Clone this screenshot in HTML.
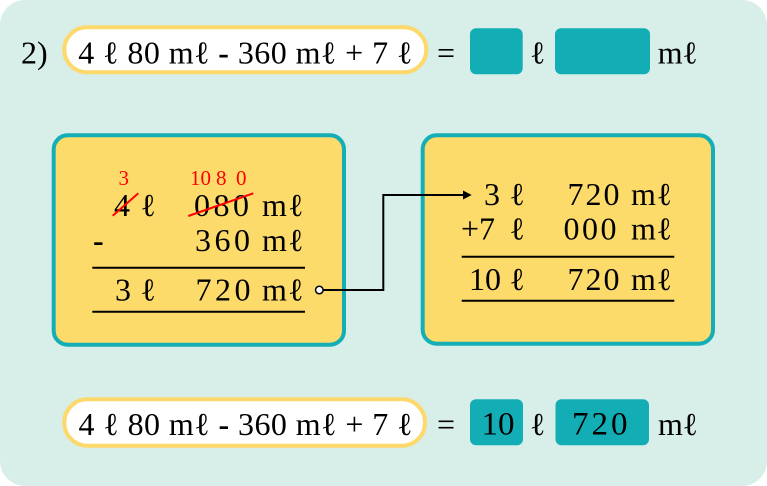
<!DOCTYPE html>
<html><head><meta charset="utf-8"><style>
html,body{margin:0;padding:0;background:#fff;}
svg{display:block;}
text{font-family:"Liberation Serif","DejaVu Serif",serif;fill:#000;}
</style></head><body>
<svg width="767" height="486" viewBox="0 0 767 486" xmlns="http://www.w3.org/2000/svg">
<rect x="0" y="0" width="767" height="486" rx="25" ry="25" fill="#d7eee9"/>

<!-- Top row -->
<text x="21" y="63.5" font-size="32">2)</text>
<rect x="64.3" y="27.3" width="362" height="45" rx="22.5" ry="22.5" fill="#fff" stroke="#fdd96b" stroke-width="4"/>
<text x="78.3" y="63.5" font-size="32" textLength="334" lengthAdjust="spacing">4 ℓ 80 mℓ <tspan font-weight="bold">-</tspan> 360 mℓ + 7 ℓ</text>
<text x="437" y="63.5" font-size="32">=</text>
<rect x="470" y="28.3" width="52.7" height="46" rx="6" fill="#13adb5"/>
<text x="530" y="63.5" font-size="32">ℓ</text>
<rect x="555" y="28.3" width="95" height="46" rx="6" fill="#13adb5"/>
<text x="657.7" y="63.5" font-size="32" textLength="40" lengthAdjust="spacing">mℓ</text>

<!-- Left box -->
<rect x="53.7" y="135.3" width="290.3" height="209.4" rx="14" ry="14" fill="#fcdb6b" stroke="#13aeb6" stroke-width="4"/>
<text x="118.5" y="185" font-size="21" style="fill:#ff0000">3</text>
<text x="190 200.5 216 236" y="185" font-size="21" style="fill:#ff0000">1080</text>

<text x="114" y="216" font-size="32">4</text>
<text x="140.5" y="216" font-size="32">ℓ</text>
<text x="194 213.5 233" y="216" font-size="32">080</text>
<text x="262" y="216" font-size="32" textLength="41.5" lengthAdjust="spacing">mℓ</text>
<line x1="112.7" y1="215.7" x2="138.3" y2="193.3" stroke="#ff0000" stroke-width="2"/>
<line x1="188.3" y1="216" x2="253.3" y2="193.3" stroke="#ff0000" stroke-width="2"/>

<text x="93" y="251" font-size="32" font-weight="bold">-</text>
<text x="195 214.5 234" y="251" font-size="32">360</text>
<text x="262" y="251" font-size="32" textLength="41.5" lengthAdjust="spacing">mℓ</text>
<line x1="92.3" y1="267.7" x2="305" y2="267.7" stroke="#000" stroke-width="2"/>

<text x="115" y="300.7" font-size="32">3</text>
<text x="140.5" y="300.7" font-size="32">ℓ</text>
<text x="195.5 215 234.5" y="300.7" font-size="32">720</text>
<text x="262" y="300.7" font-size="32" textLength="41.5" lengthAdjust="spacing">mℓ</text>
<line x1="92.3" y1="311.7" x2="305" y2="311.7" stroke="#000" stroke-width="2"/>

<!-- Right box -->
<rect x="422.7" y="135.3" width="290.3" height="208.4" rx="14" ry="14" fill="#fcdb6b" stroke="#13aeb6" stroke-width="4"/>
<text x="484" y="205" font-size="32">3</text>
<text x="509.5" y="205" font-size="32">ℓ</text>
<text x="567.5 585.5 603.5" y="205" font-size="32">720</text>
<text x="631" y="205" font-size="32" textLength="41" lengthAdjust="spacing">mℓ</text>

<text x="461" y="239.3" font-size="32">+7</text>
<text x="509.5" y="239.3" font-size="32">ℓ</text>
<text x="563.5 582 600.5" y="239.3" font-size="32">000</text>
<text x="631" y="239.3" font-size="32" textLength="41" lengthAdjust="spacing">mℓ</text>
<line x1="461.7" y1="256.7" x2="674.3" y2="256.7" stroke="#000" stroke-width="2"/>

<text x="469" y="290" font-size="32">10</text>
<text x="509.5" y="290" font-size="32">ℓ</text>
<text x="567.5 585.5 603.5" y="290" font-size="32">720</text>
<text x="631" y="290" font-size="32" textLength="41" lengthAdjust="spacing">mℓ</text>
<line x1="461.7" y1="300.7" x2="674.3" y2="300.7" stroke="#000" stroke-width="2"/>

<!-- Connector -->
<path d="M323.3 290 H383.3 V195 H465" fill="none" stroke="#000" stroke-width="2"/>
<polygon points="471.7,195 463,190.5 463,199.5" fill="#000"/>
<circle cx="319.3" cy="290" r="3.8" fill="#fff" stroke="#000" stroke-width="1.5"/>

<!-- Bottom row -->
<rect x="64.3" y="399.3" width="360.7" height="46.4" rx="23" ry="23" fill="#fff" stroke="#fdd96b" stroke-width="4"/>
<text x="78.5" y="435" font-size="32" textLength="334" lengthAdjust="spacing">4 ℓ 80 mℓ <tspan font-weight="bold">-</tspan> 360 mℓ + 7 ℓ</text>
<text x="437" y="435" font-size="32">=</text>
<rect x="470" y="399.3" width="53" height="46" rx="6" fill="#13adb5"/>
<text x="481.5" y="434.5" font-size="33">10</text>
<text x="530" y="435" font-size="32">ℓ</text>
<rect x="555.5" y="399.3" width="93.5" height="46" rx="6" fill="#13adb5"/>
<text x="572 591.5 611" y="434.5" font-size="33">720</text>
<text x="658" y="435" font-size="32" textLength="40" lengthAdjust="spacing">mℓ</text>
</svg>
</body></html>
